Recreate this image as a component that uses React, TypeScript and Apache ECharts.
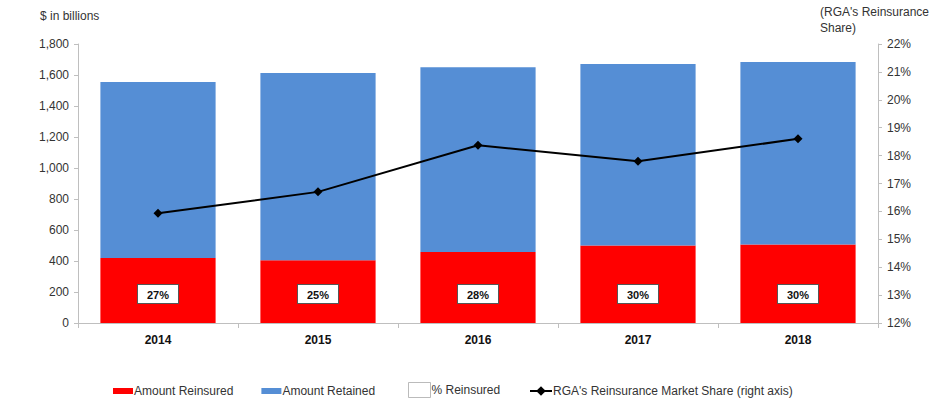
import React, { useEffect, useRef } from "react";
import * as echarts from "echarts";

const years = ["2014", "2015", "2016", "2017", "2018"];
const amountReinsured = [420, 405, 458, 500, 507];
const amountRetained = [1135, 1208, 1192, 1171, 1177];
const pctReinsured = ["27%", "25%", "28%", "30%", "30%"];
const marketShare = [15.93, 16.7, 18.37, 17.8, 18.6];

const FONT = "'Liberation Sans', Arial, sans-serif";

export default function App() {
  const ref = useRef<HTMLDivElement>(null);
  useEffect(() => {
    document.body.style.margin = "0";
    const chart = echarts.init(ref.current!, null, { renderer: "svg" });
    chart.setOption({
      animation: false,
      backgroundColor: "#ffffff",
      textStyle: { fontFamily: FONT },
      grid: { left: 78, right: 55, top: 44, bottom: 81, containLabel: false },
      graphic: [
        {
          type: "text",
          left: 40,
          top: 10,
          style: { text: "$ in billions", fontSize: 12, fill: "#333", fontFamily: FONT },
        },
        {
          type: "text",
          left: 820,
          top: 4,
          style: {
            text: "(RGA's Reinsurance\nShare)",
            fontSize: 12,
            lineHeight: 16,
            fill: "#333",
            fontFamily: FONT,
          },
        },
      ],
      legend: [
        {
          left: 108,
          top: 380,
          itemWidth: 20,
          itemHeight: 6,
          itemGap: 28,
          icon: "rect",
          textStyle: { fontSize: 12, color: "#333", fontFamily: FONT, padding: [0, 0, 0, -4] },
          data: ["Amount Reinsured", "Amount Retained"],
        },
        {
          left: 403,
          top: 377,
          itemWidth: 22,
          itemHeight: 15,
          icon: "rect",
          textStyle: { fontSize: 12, color: "#333", fontFamily: FONT, padding: [0, 0, 0, -4] },
          data: [
            {
              name: "% Reinsured",
              itemStyle: { color: "#ffffff", borderColor: "#aaaaaa", borderWidth: 1 },
            },
          ],
        },
        {
          left: 524,
          top: 380,
          itemWidth: 22,
          itemHeight: 12,
          textStyle: { fontSize: 12, color: "#333", fontFamily: FONT, padding: [0, 0, 0, -4] },
          data: ["RGA's Reinsurance Market Share (right axis)"],
        },
      ],
      xAxis: {
        type: "category",
        data: years,
        axisLine: { lineStyle: { color: "#bfbfbf" } },
        axisTick: { show: true, length: 5, lineStyle: { color: "#bfbfbf" } },
        axisLabel: { color: "#111", fontWeight: "bold", fontSize: 12, margin: 11, fontFamily: FONT },
      },
      yAxis: [
        {
          type: "value",
          min: 0,
          max: 1800,
          interval: 200,
          axisLine: { show: true, lineStyle: { color: "#bfbfbf" } },
          axisTick: { show: true, length: 4, lineStyle: { color: "#bfbfbf" } },
          splitLine: { show: false },
          axisLabel: {
            color: "#333",
            fontSize: 12,
            margin: 9,
            fontFamily: FONT,
            formatter: (v: number) => v.toLocaleString("en-US"),
          },
        },
        {
          type: "value",
          min: 12,
          max: 22,
          interval: 1,
          position: "right",
          axisLine: { show: true, lineStyle: { color: "#bfbfbf" } },
          axisTick: { show: true, length: 4, lineStyle: { color: "#bfbfbf" } },
          splitLine: { show: false },
          axisLabel: {
            color: "#333",
            fontSize: 12,
            margin: 9,
            fontFamily: FONT,
            formatter: (v: number) => v + "%",
          },
        },
      ],
      series: [
        {
          name: "Amount Reinsured",
          type: "bar",
          stack: "total",
          barCategoryGap: "28%",
          data: amountReinsured,
          itemStyle: { color: "#ff0000" },
          label: {
            show: true,
            position: "insideBottom",
            distance: 20,
            formatter: (p: any) => pctReinsured[p.dataIndex],
            backgroundColor: "#ffffff",
            borderColor: "#555555",
            borderWidth: 1,
            padding: [4, 9, 3, 9],
            color: "#111",
            fontWeight: "bold",
            fontSize: 11,
            fontFamily: FONT,
          },
        },
        {
          name: "Amount Retained",
          type: "bar",
          stack: "total",
          data: amountRetained,
          itemStyle: { color: "#558ed5" },
        },
        {
          name: "% Reinsured",
          type: "scatter",
          data: [],
          itemStyle: { color: "#ffffff", borderColor: "#aaaaaa" },
        },
        {
          name: "RGA's Reinsurance Market Share (right axis)",
          type: "line",
          yAxisIndex: 1,
          data: marketShare,
          symbol: "diamond",
          symbolSize: 9,
          lineStyle: { color: "#000000", width: 2 },
          itemStyle: { color: "#000000" },
        },
      ],
    });
    return () => chart.dispose();
  }, []);
  return (
    <div
      ref={ref}
      style={{ position: "absolute", left: 0, top: 0, width: 933, height: 404 }}
    />
  );
}
